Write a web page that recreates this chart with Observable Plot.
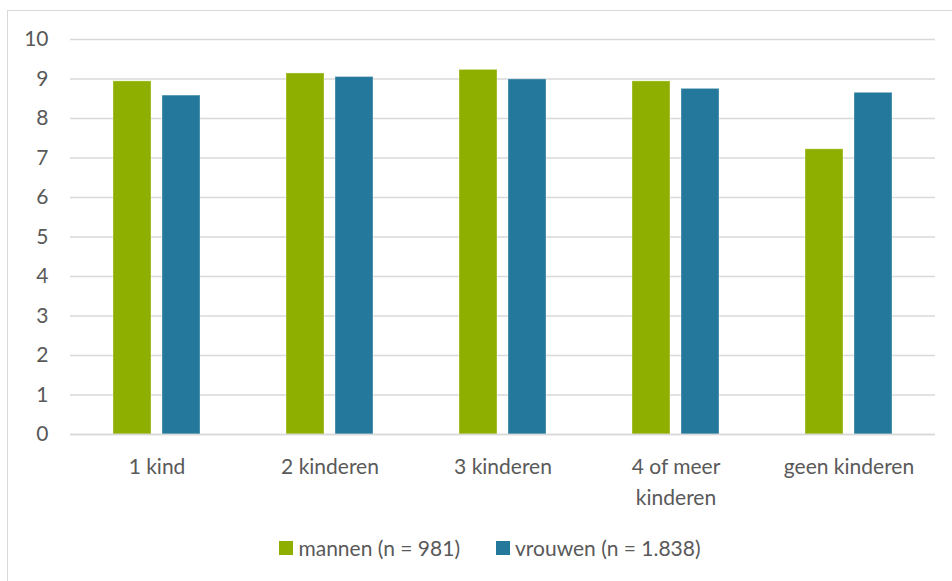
<!DOCTYPE html>
<html>
<head>
<meta charset="utf-8">
<script src="https://cdn.jsdelivr.net/npm/d3@7"></script>
<script src="https://cdn.jsdelivr.net/npm/@observablehq/plot@0.6"></script>
<style>
  html, body { margin: 0; padding: 0; background: #fff; }
  #page { position: relative; width: 952px; height: 581px; overflow: hidden; font-family: Lato, "Open Sans", sans-serif; }
  #frame { position: absolute; left: 7px; top: 10px; width: 960px; height: 600px; border: 1.5px solid #d9d9d9; box-sizing: border-box; }
  #chart { position: absolute; left: 0; top: 0; }
  #legend { position: absolute; top: 535px; left: 0; width: 952px; display: flex; justify-content: center; gap: 36px; font-size: 21px; color: #595959; padding-left: 28px; box-sizing: border-box; }
  #legend .item { display: flex; align-items: center; }
  #legend .sw { width: 14px; height: 14px; margin-right: 5px; }
</style>
</head>
<body>
<div id="page">
  <div id="frame"></div>
  <div id="chart"></div>
  <div id="legend"></div>
</div>
<script>
const categories = ["1 kind", "2 kinderen", "3 kinderen", "4 of meer\nkinderen", "geen kinderen"];
const seriesNames = ["mannen (n = 981)", "vrouwen (n = 1.838)"];
const mannen = [8.94, 9.14, 9.23, 8.94, 7.22];
const vrouwen = [8.58, 9.05, 8.99, 8.75, 8.65];
const yTicks = [0, 1, 2, 3, 4, 5, 6, 7, 8, 9, 10];
const colors = ["#8faf00", "#24789c"];

const data = [];
categories.forEach((c, i) => {
  data.push({cat: c, series: seriesNames[0], value: mannen[i]});
  data.push({cat: c, series: seriesNames[1], value: vrouwen[i]});
});

const chart = Plot.plot({
  width: 952,
  height: 510,
  marginLeft: 70,
  marginRight: 17,
  marginTop: 39,
  marginBottom: 76,
  style: {fontFamily: "Lato, 'Open Sans', sans-serif", background: "transparent"},
  fx: {domain: categories, padding: 0, label: null},
  x: {domain: seriesNames, paddingInner: 0.23, paddingOuter: 0.87, axis: null},
  y: {domain: [0, 10], label: null},
  color: {domain: seriesNames, range: colors},
  marks: [
    Plot.gridY(yTicks, {stroke: "#d9d9d9", strokeOpacity: 1, strokeWidth: 1.5}),
    Plot.barY(data, {fx: "cat", x: "series", y: "value", fill: "series", stroke: "#ffffff", strokeOpacity: 0.35, strokeWidth: 1}),
    Plot.ruleY([0], {stroke: "#d9d9d9", strokeWidth: 1.5}),
    Plot.axisY(yTicks, {tickSize: 0, tickPadding: 22, fontSize: 21, fill: "#595959", label: null}),
    Plot.axisFx({anchor: "bottom", tickSize: 0, tickPadding: 17, fontSize: 21, lineHeight: 1.48, fill: "#595959", label: null})
  ]
});
document.getElementById("chart").appendChild(chart);

const legend = document.getElementById("legend");
seriesNames.forEach((s, i) => {
  const it = document.createElement("div");
  it.className = "item";
  const sw = document.createElement("div");
  sw.className = "sw";
  sw.style.background = colors[i];
  const t = document.createElement("span");
  t.textContent = s;
  it.appendChild(sw);
  it.appendChild(t);
  legend.appendChild(it);
});
</script>
</body>
</html>
